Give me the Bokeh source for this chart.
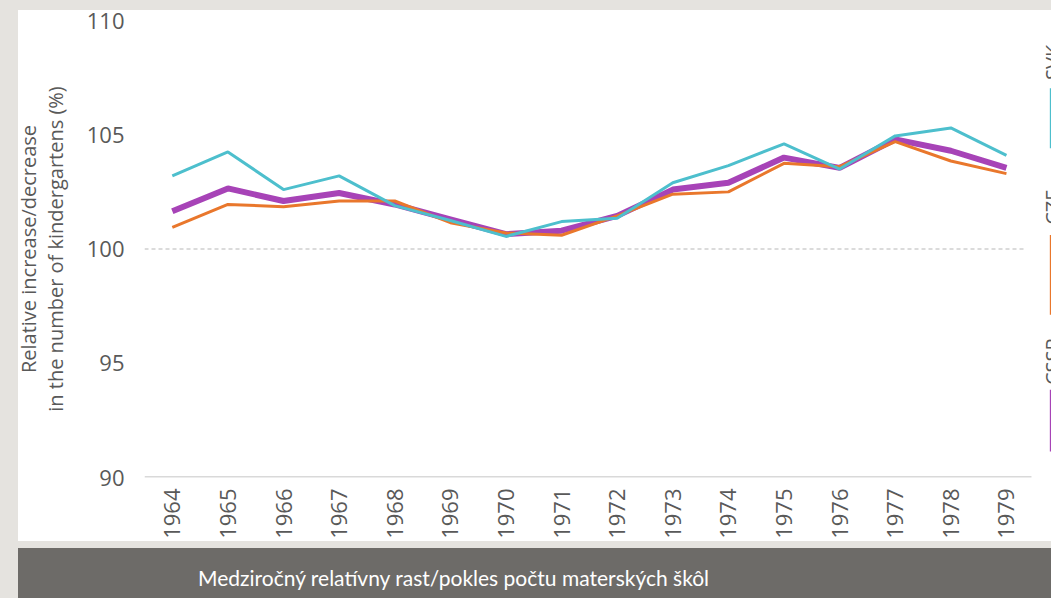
from math import pi
from bokeh.plotting import figure
from bokeh.models import Range1d, Label, BoxAnnotation, ColumnDataSource, FixedTicker, Div
from bokeh.layouts import column
from bokeh.embed import file_html
from bokeh.resources import INLINE

years = [1964, 1965, 1966, 1967, 1968, 1969, 1970, 1971,
         1972, 1973, 1974, 1975, 1976, 1977, 1978, 1979]
svk = [103.2, 104.25, 102.6, 103.2, 101.9, 101.25, 100.55, 101.2,
       101.35, 102.9, 103.65, 104.6, 103.5, 104.95, 105.3, 104.1]
cze = [100.95, 101.95, 101.85, 102.1, 102.1, 101.15, 100.7, 100.6,
       101.45, 102.4, 102.5, 103.75, 103.6, 104.7, 103.85, 103.3]
cssr = [101.65, 102.65, 102.1, 102.45, 101.95, 101.3, 100.65, 100.8,
        101.45, 102.6, 102.9, 104.0, 103.55, 104.8, 104.3, 103.55]
y_ticks = [90, 95, 100, 105, 110]
series_names = ["SVK", "CZE", "CSSR"]
title_text = "Medziročný relatívny rast/pokles počtu materských škôl"
y_title = "Relative increase/decrease\nin the number of kindergartens (%)"

C_SVK = "#4dbfcd"
C_CZE = "#e9772c"
C_CSSR = "#a743b7"
TXT = "#595959"
BG = "#e5e3df"
FONT = "Open Sans"

src = ColumnDataSource(dict(year=years, svk=svk, cze=cze, cssr=cssr))

x_start = years[0] - 0.5
x_end = years[0] - 0.5 + 16.31

p = figure(x_range=Range1d(x_start, x_end), y_range=Range1d(90, 110),
           width=1040, height=536, output_backend="svg", toolbar_location=None,
           min_border_left=133, min_border_right=0, min_border_top=15,
           min_border_bottom=63, background_fill_color="white",
           border_fill_color="white", border_fill_alpha=0, outline_line_color=None)
p.margin = (5, 0, 0, 11)
p.styles = {"background": ("linear-gradient(to right, %s 7px, rgba(255,255,255,0) 7px), "
                           "linear-gradient(to bottom, %s 5px, #ffffff 5px)") % (BG, BG)}

# dashed reference line at 100 and baseline at 90
p.segment(x0=[years[0] - 0.5], x1=[years[-1] + 0.35], y0=[100], y1=[100],
          line_color="#cfcfcf", line_dash="4 3", line_width=1.5)
p.segment(x0=[years[0] - 0.5], x1=[years[-1] + 0.45], y0=[y_ticks[0]], y1=[y_ticks[0]],
          line_color="#d9d9d9", line_width=3)

p.line("year", "cssr", source=src, line_color=C_CSSR, line_width=6)
p.line("year", "cze", source=src, line_color=C_CZE, line_width=3)
p.line("year", "svk", source=src, line_color=C_SVK, line_width=3)

p.xgrid.visible = False
p.ygrid.visible = False

xa = p.xaxis[0]
xa.ticker = FixedTicker(ticks=years)
xa.axis_line_color = None
xa.major_tick_line_color = None
xa.minor_tick_line_color = None
xa.major_tick_out = 0
xa.major_tick_in = 0
xa.axis_label_standoff = 0
xa.major_label_orientation = pi / 2
xa.major_label_standoff = 11
xa.major_label_text_font = FONT
xa.major_label_text_font_size = "22px"
xa.major_label_text_color = TXT

ya = p.yaxis[0]
ya.ticker = FixedTicker(ticks=y_ticks)
ya.axis_line_color = None
ya.major_tick_line_color = None
ya.minor_tick_line_color = None
ya.major_tick_out = 0
ya.major_tick_in = 0
ya.major_label_standoff = 20
ya.major_label_text_font = FONT
ya.major_label_text_font_size = "22px"
ya.major_label_text_color = TXT
ya.axis_label = y_title
ya.axis_label_standoff = 15
ya.axis_label_text_font = FONT
ya.axis_label_text_font_size = "20px"
ya.axis_label_text_font_style = "normal"
ya.axis_label_text_color = TXT
ya.axis_label_text_line_height = 1.0

# legend (rotated, partially cut at the right edge as in the slide)
leg = [(series_names[0], C_SVK, 108.17, 107.03, 104.41),
       (series_names[1], C_CZE, 101.83, 100.61, 97.12),
       (series_names[2], C_CSSR, 95.07, 93.84, 91.14)]
for name, col, ty, top, bot in leg:
    p.add_layout(Label(x=1979.58, y=ty, text=name, angle=pi / 2,
                       text_align="center", text_baseline="top",
                       text_font=FONT, text_font_size="20px", text_color=TXT))
    p.add_layout(BoxAnnotation(left=1979.78, right=1980.0, top=top, bottom=bot,
                               fill_color=col, fill_alpha=1, line_color=None))

banner = Div(text=('<div style="padding:19px 0 0 180px;font-family:Lato;font-size:21px;'
                   'color:#ffffff;line-height:1;white-space:nowrap;">' + title_text + '</div>'),
             width=1033, height=50,
             styles={"background-color": "#6d6b68", "overflow": "hidden"})
banner.margin = (7, 0, 0, 18)

layout = column(p, banner)
html = file_html(layout, INLINE)
html = html.replace("</head>",
                    "<style>html,body{background:%s;overflow:hidden;}</style></head>" % BG, 1)
open("out.html", "w").write(html)
